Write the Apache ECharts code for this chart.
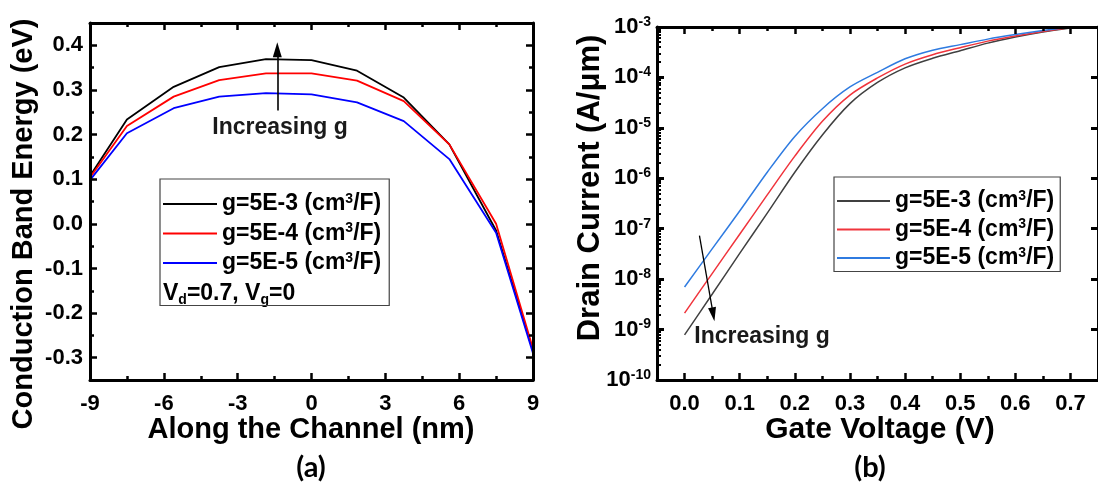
<!DOCTYPE html>
<html><head><meta charset="utf-8">
<script src="https://cdn.jsdelivr.net/npm/echarts@6/dist/echarts.min.js"></script>
<style>html,body{margin:0;padding:0;background:#fff;}#c{width:1098px;height:491px;}</style>
</head><body><div id="c"></div>
<script>
// ---------- (a) conduction band energy ----------
const channelPos = [-9, -7.5, -5.6, -3.75, -1.85, 0, 1.85, 3.75, 5.6, 7.5, 9];
const cbe_g5e3 = [0.107, 0.234, 0.307, 0.351, 0.369, 0.367, 0.343, 0.283, 0.178, -0.015, -0.285];
const cbe_g5e4 = [0.104, 0.219, 0.285, 0.322, 0.337, 0.337, 0.321, 0.275, 0.178, 0.000, -0.280];
const cbe_g5e5 = [0.098, 0.203, 0.259, 0.285, 0.293, 0.290, 0.272, 0.230, 0.145, -0.020, -0.290];
const aYTicks = [-0.3, -0.2, -0.1, 0.0, 0.1, 0.2, 0.3, 0.4];
const aYMinor = [-0.25, -0.15, -0.05, 0.05, 0.15, 0.25, 0.35];

// ---------- (b) drain current ----------
const gateV = [0, 0.05, 0.10, 0.15, 0.20, 0.25, 0.30, 0.35, 0.40, 0.45, 0.50, 0.55, 0.60, 0.65, 0.70];
const id_g5e3 = [7.85e-10, 5.01e-9, 3.24e-8, 2.04e-7, 1.32e-6, 7.24e-6, 3.02e-5, 7.94e-5, 1.55e-4, 2.40e-4, 3.39e-4, 4.79e-4, 6.31e-4, 7.94e-4, 9.55e-4];
const id_g5e4 = [2.12e-9, 1.29e-8, 7.76e-8, 4.68e-7, 2.75e-6, 1.35e-5, 4.47e-5, 9.77e-5, 1.84e-4, 2.82e-4, 3.89e-4, 5.25e-4, 6.61e-4, 8.13e-4, 9.77e-4];
const id_g5e5 = [6.97e-9, 3.98e-8, 2.24e-7, 1.32e-6, 6.76e-6, 2.40e-5, 6.46e-5, 1.26e-4, 2.34e-4, 3.47e-4, 4.47e-4, 5.75e-4, 7.08e-4, 8.51e-4, 1.0e-3];
const bXTicks = [0, 0.1, 0.2, 0.3, 0.4, 0.5, 0.6, 0.7];
const bXMinor = [0.05, 0.15, 0.25, 0.35, 0.45, 0.55, 0.65];
const bYDecades = [1e-10, 1e-9, 1e-8, 1e-7, 1e-6, 1e-5, 1e-4, 1e-3];
const bYMinor = [];
for (let e = -10; e < -3; e++) for (let k = 2; k <= 9; k++) bYMinor.push(Number((k * Math.pow(10, e)).toPrecision(3)));

const legendNames = ['g=5E-3', 'g=5E-4', 'g=5E-5'];
const legendMap = {a1: legendNames[0], a2: legendNames[1], a3: legendNames[2], b1: legendNames[0], b2: legendNames[1], b3: legendNames[2]};

const FONT = "'Liberation Sans', Arial, sans-serif";
const BLK = '#000';

function zip(xs, ys) { return xs.map((x, i) => [x, ys[i]]); }

const noLine = {show: false, onZero: false};
const frameLine = {show: true, onZero: false, lineStyle: {color: BLK, width: 3}};

function tickAxis(o) {
  const base = {
    type: 'value', splitLine: {show: false}, minorSplitLine: {show: false},
    axisLine: noLine,
    axisTick: {show: true, inside: true, length: 7, lineStyle: {color: BLK, width: 2.5}},
    axisLabel: {show: false},
    z: 5
  };
  return Object.assign(base, o);
}

const labelStyle = {show: true, fontFamily: FONT, fontWeight: 'bold', fontSize: 22, color: BLK};

const legendRich = {
  t: {fontFamily: FONT, fontWeight: 'bold', fontSize: 23, color: BLK, lineHeight: 24},
  s: {fontFamily: FONT, fontWeight: 'bold', fontSize: 14, color: BLK, lineHeight: 13, verticalAlign: 'top'}
};

const option = {
  animation: false,
  backgroundColor: '#fff',
  grid: [
    {left: 90, top: 23, width: 443, height: 357},
    {left: 657, top: 27, width: 444, height: 353}
  ],
  xAxis: [
    tickAxis({gridIndex: 0, position: 'bottom', min: -9, max: 9, interval: 3, axisLine: frameLine,
      minorTick: {show: true, splitNumber: 2, length: 4, lineStyle: {color: BLK, width: 2.5}},
      axisLabel: Object.assign({}, labelStyle, {margin: 13})}),
    tickAxis({gridIndex: 0, position: 'top', min: -9, max: 9, interval: 3, axisLine: frameLine,
      minorTick: {show: true, splitNumber: 2, length: 4, lineStyle: {color: BLK, width: 2.5}}}),
    tickAxis({gridIndex: 1, position: 'bottom', min: -0.05, max: 0.75, axisLine: frameLine,
      axisTick: {show: true, inside: true, length: 7, customValues: bXTicks, lineStyle: {color: BLK, width: 2.5}},
      axisLabel: Object.assign({}, labelStyle, {margin: 13, customValues: bXTicks, formatter: v => v.toFixed(1)})}),
    tickAxis({gridIndex: 1, position: 'bottom', min: -0.05, max: 0.75,
      axisTick: {show: true, inside: true, length: 4, customValues: bXMinor, lineStyle: {color: BLK, width: 2.5}}}),
    tickAxis({gridIndex: 1, position: 'top', min: -0.05, max: 0.75, axisLine: frameLine,
      axisTick: {show: true, inside: true, length: 7, customValues: bXTicks, lineStyle: {color: BLK, width: 2.5}}}),
    tickAxis({gridIndex: 1, position: 'top', min: -0.05, max: 0.75,
      axisTick: {show: true, inside: true, length: 4, customValues: bXMinor, lineStyle: {color: BLK, width: 2.5}}})
  ],
  yAxis: [
    tickAxis({gridIndex: 0, position: 'left', min: -0.35, max: 0.45, axisLine: frameLine,
      axisTick: {show: true, inside: true, length: 7, customValues: aYTicks, lineStyle: {color: BLK, width: 2.5}},
      axisLabel: Object.assign({}, labelStyle, {margin: 7, customValues: aYTicks, formatter: v => v.toFixed(1)})}),
    tickAxis({gridIndex: 0, position: 'left', min: -0.35, max: 0.45,
      axisTick: {show: true, inside: true, length: 4, customValues: aYMinor, lineStyle: {color: BLK, width: 2.5}}}),
    tickAxis({gridIndex: 0, position: 'right', min: -0.35, max: 0.45, axisLine: frameLine,
      axisTick: {show: true, inside: true, length: 7, customValues: aYTicks, lineStyle: {color: BLK, width: 2.5}}}),
    tickAxis({gridIndex: 0, position: 'right', min: -0.35, max: 0.45,
      axisTick: {show: true, inside: true, length: 4, customValues: aYMinor, lineStyle: {color: BLK, width: 2.5}}}),
    tickAxis({gridIndex: 1, type: 'log', logBase: 10, position: 'left', min: 1e-10, max: 1e-3, axisLine: frameLine,
      axisTick: {show: true, inside: true, length: 7, customValues: bYDecades, lineStyle: {color: BLK, width: 3}},
      axisLabel: {show: true, margin: 6, customValues: bYDecades,
        formatter: v => '{b|10}{e|' + Math.round(Math.log10(v)) + '}',
        rich: {
          b: {fontFamily: FONT, fontWeight: 'bold', fontSize: 22, color: BLK, lineHeight: 24},
          e: {fontFamily: FONT, fontWeight: 'bold', fontSize: 14, color: BLK, lineHeight: 13, verticalAlign: 'top'}
        }}}),
    tickAxis({gridIndex: 1, type: 'log', logBase: 10, position: 'left', min: 1e-10, max: 1e-3,
      axisTick: {show: true, inside: true, length: 4, customValues: bYMinor, lineStyle: {color: BLK, width: 2}}}),
    tickAxis({gridIndex: 1, type: 'log', logBase: 10, position: 'right', min: 1e-10, max: 1e-3, axisLine: frameLine,
      axisTick: {show: true, inside: true, length: 7, customValues: bYDecades, lineStyle: {color: BLK, width: 3}}})
  ],
  legend: [
    {data: ['a1', 'a2', 'a3'], orient: 'vertical', left: 160, top: 179, selectedMode: false,
     padding: [13, 8, 31, 3], itemGap: 6, itemWidth: 54, itemHeight: 2, icon: 'rect',
     borderColor: '#444', borderWidth: 1.2,
     formatter: n => '{t|' + legendMap[n] + ' (cm}{s|3}{t|/F)}',
     textStyle: {fontFamily: FONT, fontWeight: 'bold', fontSize: 23, color: BLK, rich: legendRich}},
    {data: ['b1', 'b2', 'b3'], orient: 'vertical', left: 834, top: 177, selectedMode: false,
     padding: [12, 6, 2, 3], itemGap: 5, itemWidth: 53, itemHeight: 2, icon: 'rect',
     borderColor: '#444', borderWidth: 1.2,
     formatter: n => '{t|' + legendMap[n] + ' (cm}{s|3}{t|/F)}',
     textStyle: {fontFamily: FONT, fontWeight: 'bold', fontSize: 23, color: BLK, rich: legendRich}}
  ],
  series: [
    {name: 'a1', type: 'line', xAxisIndex: 0, yAxisIndex: 0, data: zip(channelPos, cbe_g5e3), color: '#000',
     symbol: 'none', lineStyle: {width: 1.8, color: '#000'}, z: 3,
     markLine: {silent: true, symbol: ['none', 'triangle'], symbolSize: [9, 15], label: {show: false},
       lineStyle: {color: '#000', width: 1.6, type: 'solid'},
       data: [[{coord: [-1.39, 0.254]}, {coord: [-1.39, 0.390]}]]}},
    {name: 'a2', type: 'line', xAxisIndex: 0, yAxisIndex: 0, data: zip(channelPos, cbe_g5e4), color: '#ff0000',
     symbol: 'none', lineStyle: {width: 1.8, color: '#ff0000'}, z: 3},
    {name: 'a3', type: 'line', xAxisIndex: 0, yAxisIndex: 0, data: zip(channelPos, cbe_g5e5), color: '#0000ff',
     symbol: 'none', lineStyle: {width: 1.8, color: '#0000ff'}, z: 3},
    {name: 'b1', type: 'line', xAxisIndex: 2, yAxisIndex: 4, data: zip(gateV, id_g5e3), color: '#404040',
     symbol: 'none', smooth: 0.3, lineStyle: {width: 1.5, color: '#404040'}, z: 3,
     markLine: {silent: true, symbol: ['none', 'triangle'], symbolSize: [8, 14], label: {show: false},
       lineStyle: {color: '#000', width: 1.3, type: 'solid'},
       data: [[{coord: [0.027, 7.3e-8]}, {coord: [0.052, 2.0e-9]}]]}},
    {name: 'b2', type: 'line', xAxisIndex: 2, yAxisIndex: 4, data: zip(gateV, id_g5e4), color: '#f0343c',
     symbol: 'none', smooth: 0.3, lineStyle: {width: 1.5, color: '#f0343c'}, z: 3},
    {name: 'b3', type: 'line', xAxisIndex: 2, yAxisIndex: 4, data: zip(gateV, id_g5e5), color: '#2f7be0',
     symbol: 'none', smooth: 0.3, lineStyle: {width: 1.5, color: '#2f7be0'}, z: 3}
  ],
  graphic: [
    {type: 'text', x: 24, y: 224, rotation: Math.PI / 2,
     style: {text: 'Conduction Band Energy (eV)', font: 'bold 29px ' + FONT, fill: BLK, align: 'center', verticalAlign: 'middle'}},
    {type: 'text', x: 311, y: 430,
     style: {text: 'Along the Channel (nm)', font: 'bold 29px ' + FONT, fill: BLK, align: 'center', verticalAlign: 'middle'}},
    {type: 'text', x: 311, y: 468,
     style: {text: '(a)', font: 'bold 29px Lato, ' + FONT, fill: BLK, align: 'center', verticalAlign: 'middle'}},
    {type: 'text', x: 590, y: 188, rotation: Math.PI / 2,
     style: {text: 'Drain Current (A/μm)', font: 'bold 31px ' + FONT, fill: BLK, align: 'center', verticalAlign: 'middle'}},
    {type: 'text', x: 880, y: 430,
     style: {text: 'Gate Voltage (V)', font: 'bold 30px ' + FONT, fill: BLK, align: 'center', verticalAlign: 'middle'}},
    {type: 'text', x: 870, y: 468,
     style: {text: '(b)', font: 'bold 29px Lato, ' + FONT, fill: BLK, align: 'center', verticalAlign: 'middle'}},
    {type: 'text', x: 280, y: 128,
     style: {text: 'Increasing g', font: 'bold 23px ' + FONT, fill: '#1a1a1a', align: 'center', verticalAlign: 'middle'}},
    {type: 'text', x: 762, y: 337,
     style: {text: 'Increasing g', font: 'bold 23px ' + FONT, fill: '#1a1a1a', align: 'center', verticalAlign: 'middle'}},
    {type: 'text', x: 163, y: 294,
     style: {text: '{v|V}{d|d}{v|=0.7, V}{d|g}{v|=0}', align: 'left', verticalAlign: 'middle',
       rich: {
         v: {fontFamily: FONT, fontWeight: 'bold', fontSize: 23, fill: BLK, lineHeight: 26},
         d: {fontFamily: FONT, fontWeight: 'bold', fontSize: 14, fill: BLK, lineHeight: 13, verticalAlign: 'bottom'}
       }}}
  ]
};
const chart = echarts.init(document.getElementById('c'));
chart.setOption(option);
</script>
</body></html>
